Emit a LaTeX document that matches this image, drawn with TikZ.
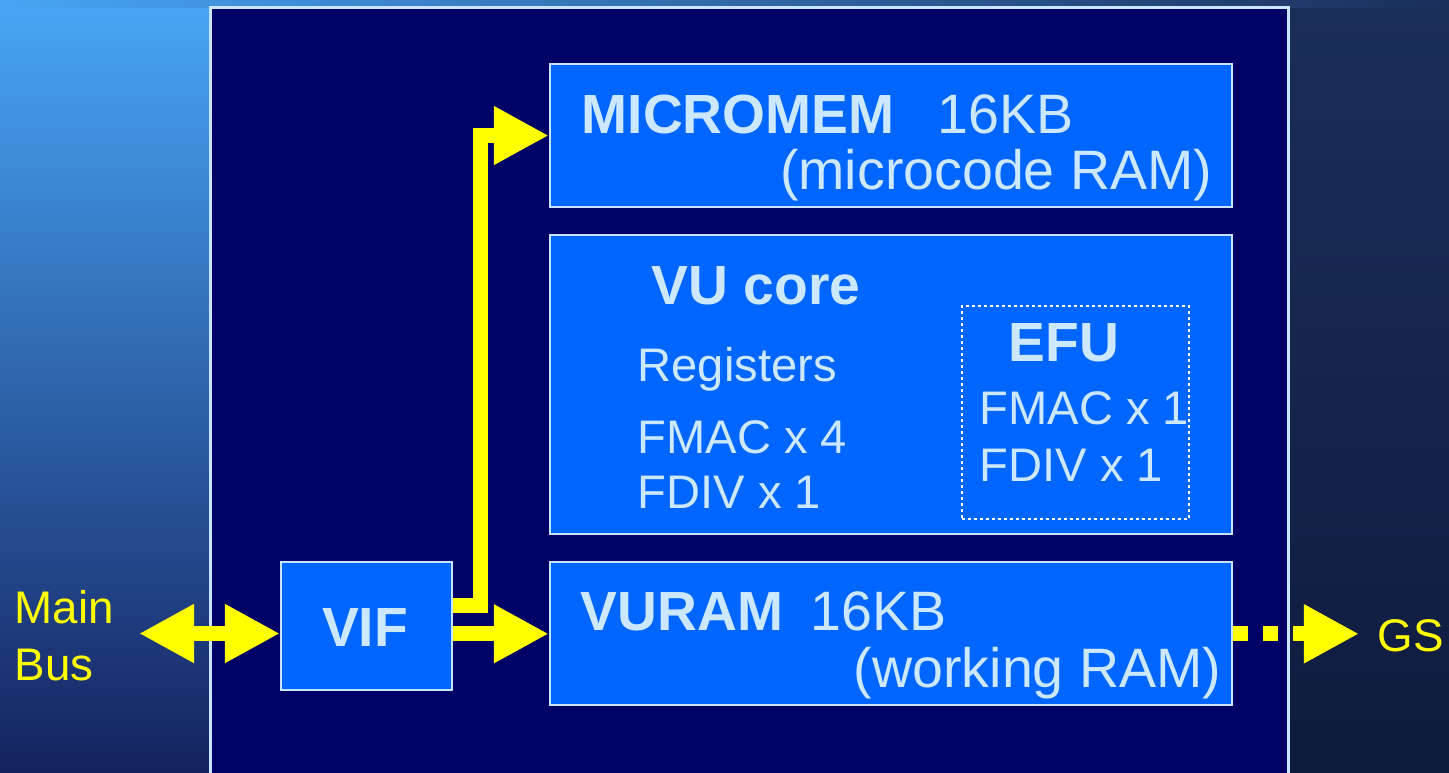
\documentclass[tikz,border=0pt]{standalone}
\usepackage{fontspec}
\setmainfont{Liberation Sans}
\usetikzlibrary{positioning, arrows.meta}

\definecolor{navy}{RGB}{0,0,102}
\definecolor{blockblue}{RGB}{0,102,255}
\definecolor{edgeblue}{RGB}{200,228,255}
\definecolor{textblue}{RGB}{204,232,255}
\definecolor{busyellow}{RGB}{255,255,0}
\definecolor{skylight}{RGB}{72,165,245}
\definecolor{skymid}{RGB}{45,110,235}
\definecolor{skydark}{RGB}{20,34,96}
\definecolor{nightA}{RGB}{26,46,90}
\definecolor{nightB}{RGB}{16,26,62}

\begin{document}
\begin{tikzpicture}[x=0.01cm, y=-0.01cm,
    >={Triangle[length=0.55cm, width=0.55cm]},
    block/.style={draw=edgeblue, fill=blockblue, line width=0.02cm, inner sep=0pt, minimum width=6.82cm},
    lbl/.style={text=textblue, inner sep=0pt, font=\fontsize{15.8}{19}\selectfont},
    head/.style={lbl, font=\fontsize{15.7}{19}\selectfont\bfseries},
    small/.style={lbl, font=\fontsize{13.4}{16}\selectfont},
    side/.style={text=busyellow, inner sep=0pt, font=\fontsize{13}{16.5}\selectfont},
    flow/.style={draw=busyellow, line width=0.15cm}]
    \useasboundingbox (0,0) rectangle (1449,772);
    \clip (0,0) rectangle (1449,772);

    % Background
    \shade[left color=skylight, middle color=skymid, right color=nightA] (0,0) rectangle (1449,8);
    \shade[top color=skylight, middle color=skymid, bottom color=skydark] (0,8) rectangle (210,772);
    \shade[top color=nightA, bottom color=nightB] (1288,8) rectangle (1449,772);
    \draw[fill=navy, draw=edgeblue, line width=0.03cm] (210,7) rectangle (1288,800);

    % Blocks
    \node[block, minimum height=1.43cm] (micromem) at (891,135.5) {};
    \node[block, minimum height=2.99cm, below=0.26cm of micromem] (vucore) {};
    \node[block, minimum height=1.43cm, below=0.26cm of vucore] (vuram) {};
    \node[block, minimum width=1.71cm, minimum height=1.28cm] (vif) at (366.5,626) {};
    \node[draw=white, line width=0.025cm, dash pattern=on 0.03cm off 0.03cm,
          minimum width=2.27cm, minimum height=2.13cm, inner sep=0pt] (efu) at (1075.5,412.5) {};

    % Labels
    \node[head, anchor=base west] (micromemname) at (581,133) {MICROMEM};
    \node[lbl, anchor=base west] (micromemsize) at (937,133) {16KB};
    \node[lbl, anchor=base east] (micromemuse) at (1213,189) {(microcode RAM)};
    \node[head, anchor=base west] (vucorename) at (651,304) {VU core};
    \node[small, anchor=base west] (registers) at (637,381) {Registers};
    \node[small, anchor=base west] (fmac) at (637,453) {FMAC x 4};
    \node[small, anchor=base west] (fdiv) at (637,508) {FDIV x 1};
    \node[head, anchor=base west] (efuname) at (1008,361) {EFU};
    \node[small, anchor=base west] (efufmac) at (979,424) {FMAC x 1};
    \node[small, anchor=base west] (efufdiv) at (979,481) {FDIV x 1};
    \node[head, anchor=base west] (vuramname) at (580,630) {VURAM};
    \node[lbl, anchor=base west] (vuramsize) at (810,630) {16KB};
    \node[lbl, anchor=base east] (vuramuse) at (1222,687) {(working RAM)};
    \node[head, anchor=base] (vifname) at (365,646) {VIF};
    \node[side, anchor=base west] (mainword) at (14,623) {Main};
    \node[side, anchor=base west] (busword) at (14,680) {Bus};
    \node[side, anchor=base west, inner xsep=0.18cm] (gs) at (1359,651) {GS};

    % Arrows
    \coordinate (bustip) at (139,633.5);
    \coordinate (bend) at (480,605.5);
    \draw[flow, <->] (bustip) -- (bustip -| vif.west);
    \draw[flow, ->] (vif.east |- vuram.west) -- (vuram.west);
    \draw[flow, ->] (vif.east |- bend) -- (bend) |- (micromem.west);
    \draw[flow, ->, dash pattern=on 0.15cm off 0.15cm] (vuram.east) -- (vuram.east -| gs.west);
\end{tikzpicture}
\end{document}
